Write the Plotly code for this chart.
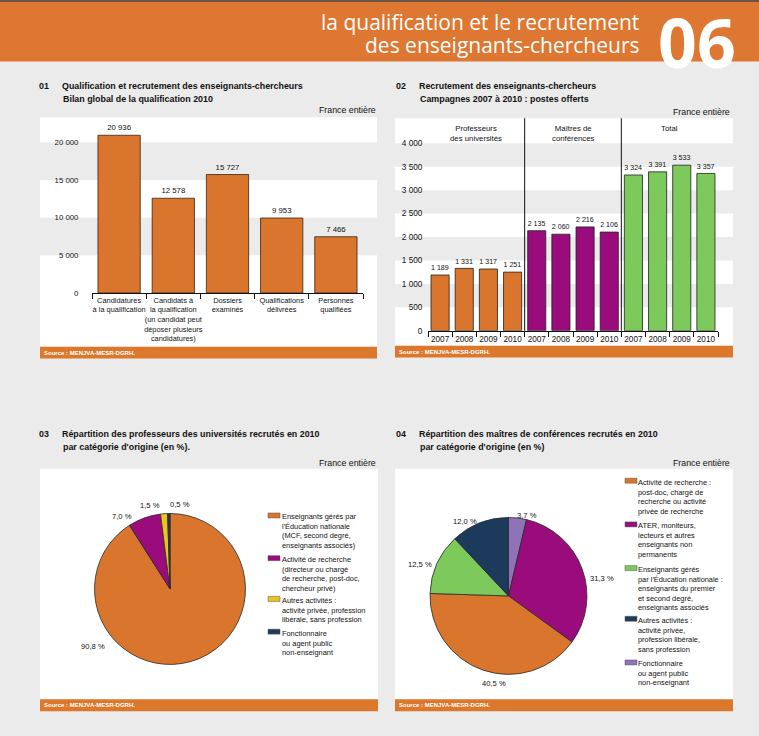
import plotly.graph_objects as go

W, H = 759, 736
def X(px): return px / W
def Y(py): return 1 - py / H

FONT = "Liberation Sans Narrow, Arial Narrow, Liberation Sans, sans-serif"
ORANGE = "#d9752c"
PURPLE = "#9a0b7c"
GREEN = "#7dc95c"
NAVY = "#1c3a5c"
YELLOW = "#efc21c"
LAVENDER = "#8f73b8"
BAND = "#ebebeb"

# ---------- DATA ----------
c1_categories = ["Candidatures<br>à la qualification",
                 "Candidats à<br>la qualification<br>(un candidat peut<br>déposer plusieurs<br>candidatures)",
                 "Dossiers<br>examinés", "Qualifications<br>délivrées", "Personnes<br>qualifiées"]
c1_values = [20936, 12578, 15727, 9953, 7466]

c2_years = ["2007", "2008", "2009", "2010"]
c2_groups = ["Professeurs<br>des universités", "Maîtres de<br>conférences", "Total"]
c2_pu = [1189, 1331, 1317, 1251]
c2_mcf = [2135, 2060, 2216, 2106]
c2_total = [3324, 3391, 3533, 3357]

c3_labels = ["Enseignants gérés par<br>l'Éducation nationale<br>(MCF, second degré,<br>enseignants associés)",
             "Activité de recherche<br>(directeur ou chargé<br>de recherche, post-doc,<br>chercheur privé)",
             "Autres activités :<br>activité privée, profession<br>libérale, sans profession",
             "Fonctionnaire<br>ou agent public<br>non-enseignant"]
c3_values = [90.8, 7.0, 1.5, 0.5]
c3_colors = [ORANGE, PURPLE, YELLOW, NAVY]

c4_labels = ["Activité de recherche :<br>post-doc, chargé de<br>recherche ou activité<br>privée de recherche",
             "ATER, moniteurs,<br>lecteurs et autres<br>enseignants non<br>permanents",
             "Enseignants gérés<br>par l'Éducation nationale :<br>enseignants du premier<br>et second degré,<br>enseignants associés",
             "Autres activités :<br>activité privée,<br>profession libérale,<br>sans profession",
             "Fonctionnaire<br>ou agent public<br>non-enseignant"]
c4_values = [40.5, 31.3, 12.5, 12.0, 3.7]
c4_colors = [ORANGE, PURPLE, GREEN, NAVY, LAVENDER]
c4_pie_order = [4, 1, 0, 2, 3]  # clockwise from 12 o'clock

def pct(v):
    return f"{v:.1f}".replace(".", ",") + " %"

fig = go.Figure()

# ---------- Chart 01 ----------
fig.add_trace(go.Bar(
    x=c1_categories, y=c1_values, xaxis="x", yaxis="y", width=0.78,
    marker=dict(color=ORANGE, line=dict(color="#3b2412", width=0.8)),
    texttemplate="%{y:,}", textposition="outside", cliponaxis=False,
    textfont=dict(size=7.8, color="#111", family=FONT), showlegend=False))

# ---------- Chart 02 ----------
c2_cats = [f"{g}|{y}" for g in range(3) for y in c2_years]
for gi, (vals, col) in enumerate([(c2_pu, ORANGE), (c2_mcf, PURPLE), (c2_total, GREEN)]):
    fig.add_trace(go.Bar(
        x=[f"{gi}|{y}" for y in c2_years], y=vals, xaxis="x2", yaxis="y2", width=0.75,
        marker=dict(color=col, line=dict(color="#222", width=0.8)),
        texttemplate="%{y:,}", textposition="outside", cliponaxis=False,
        textfont=dict(size=8, color="#111", family=FONT), showlegend=False))

# ---------- Chart 03 pie ----------
fig.add_trace(go.Pie(
    values=c3_values, labels=[l.replace("<br>", " ") for l in c3_labels],
    marker=dict(colors=c3_colors, line=dict(color="#2a2a2a", width=0.8)),
    sort=False, direction="clockwise", rotation=0, textinfo="none",
    domain=dict(x=[X(94), X(246)], y=[Y(669), Y(517)]), showlegend=False, hoverinfo="label+percent"))

# ---------- Chart 04 pie ----------
fig.add_trace(go.Pie(
    values=[c4_values[i] for i in c4_pie_order],
    labels=[c4_labels[i].replace("<br>", " ") for i in c4_pie_order],
    marker=dict(colors=[c4_colors[i] for i in c4_pie_order], line=dict(color="#2a2a2a", width=0.8)),
    sort=False, direction="clockwise", rotation=0, textinfo="none",
    domain=dict(x=[X(430), X(587)], y=[Y(679), Y(521)]), showlegend=False, hoverinfo="label+percent"))

shapes = []
ann = []

def A(**kw):
    d = dict(xref="paper", yref="paper", showarrow=False)
    d.update(kw)
    ann.append(d)

# header
shapes.append(dict(type="rect", xref="paper", yref="paper", x0=0, x1=1, y0=Y(62), y1=1,
                   fillcolor="#dd7731", line_width=0, layer="below"))
shapes.append(dict(type="rect", xref="paper", yref="paper", x0=0, x1=1, y0=Y(2), y1=1,
                   fillcolor="#6e5644", line_width=0, layer="below"))
HFONT = "Open Sans, Noto Sans, sans-serif"
A(text="la qualification et le recrutement", x=X(641), y=Y(22), xanchor="right", yanchor="middle",
  font=dict(family=HFONT, size=21, color="white"))
A(text="des enseignants-chercheurs", x=X(641), y=Y(45), xanchor="right", yanchor="middle",
  font=dict(family=HFONT, size=21, color="white"))
A(text="<b>06</b>", x=X(697), y=Y(42), xanchor="center", yanchor="middle",
  font=dict(family=HFONT, size=68, color="white"))

# panel boxes & source strips
boxes = [(40, 377, 118, 349), (395, 733, 119, 348), (40, 378, 472, 704), (395, 733, 472, 704)]
for (x0, x1, y0, y1) in boxes:
    shapes.append(dict(type="rect", xref="paper", yref="paper", x0=X(x0), x1=X(x1), y0=Y(y1), y1=Y(y0),
                       fillcolor="white", line_width=0, layer="below"))
    shapes.append(dict(type="rect", xref="paper", yref="paper", x0=X(x0), x1=X(x1), y0=Y(y1 + 12), y1=Y(y1),
                       fillcolor="#dc782c", line_width=0, layer="below"))
    A(text="<b>Source : MENJVA-MESR-DGRH.</b>", x=X(x0 + 2), y=Y(y1 + 6), xanchor="left",
      yanchor="middle", font=dict(family=FONT, size=6, color="white"))

# bands
for lo, hi in [(15000, 20000), (5000, 10000)]:
    shapes.append(dict(type="rect", xref="paper", yref="y", x0=X(40), x1=X(377), y0=lo, y1=hi,
                       fillcolor=BAND, line_width=0, layer="below"))
for lo, hi in [(3500, 4000), (2500, 3000), (1500, 2000), (500, 1000)]:
    shapes.append(dict(type="rect", xref="paper", yref="y2", x0=X(395), x1=X(733), y0=lo, y1=hi,
                       fillcolor=BAND, line_width=0, layer="below"))
# dividers chart 02
for xv in [3.5, 7.5]:
    shapes.append(dict(type="line", xref="x2", yref="paper", x0=xv, x1=xv, y0=Y(333), y1=Y(119),
                       line=dict(color="#111", width=1)))
for gi, g in enumerate(c2_groups):
    A(text=g, x=gi * 4 + 1.5, xref="x2", y=Y(123), xanchor="center", yanchor="top",
      font=dict(family=FONT, size=7.8, color="#111"))

# titles
TFONT = dict(family=FONT, size=8.9, color="#111")
titles = [
    (37, 60, 87, "01", ["Qualification et recrutement des enseignants-chercheurs", "Bilan global de la qualification 2010"], 378, 111),
    (394, 417, 87, "02", ["Recrutement des enseignants-chercheurs", "Campagnes 2007 à 2010 : postes offerts"], 732, 113),
    (37, 60, 437, "03", ["Répartition des professeurs des universités recrutés en 2010", "par catégorie d'origine (en %)."], 378, 466),
    (394, 417, 437, "04", ["Répartition des maîtres de conférences recrutés en 2010", "par catégorie d'origine (en %)"], 732, 466),
]
for nx, tx, ty, num, lines, fx, fy in titles:
    A(text=f"<b>{num}</b>", x=X(nx), y=Y(ty), xanchor="left", yanchor="middle", font=TFONT)
    A(text=f"<b>{lines[0]}</b>", x=X(tx), y=Y(ty), xanchor="left", yanchor="middle", font=TFONT)
    A(text=f"<b>{lines[1]}</b>", x=X(tx + 1), y=Y(ty + 13), xanchor="left", yanchor="middle", font=TFONT)
    A(text="France entière", x=X(fx), y=Y(fy), xanchor="right", yanchor="middle",
      font=dict(family=FONT, size=8.8, color="#111"))

# pie labels
LFONT = dict(family=FONT, size=7.6, color="#111")
for v, (px, py) in zip(c3_values, [(93, 651), (122, 520), (150, 509), (180, 508)]):
    A(text=pct(v), x=X(px), y=Y(py), xanchor="center", yanchor="middle", font=LFONT)
for v, (px, py) in zip(c4_values, [(494, 688), (602, 582), (420, 568), (465, 525), (527, 519)]):
    A(text=pct(v), x=X(px), y=Y(py), xanchor="center", yanchor="middle", font=LFONT)

# manual legends
def legend(labels, colors, mx, tx, ys):
    for lab, col, yy in zip(labels, colors, ys):
        shapes.append(dict(type="rect", xref="paper", yref="paper", x0=X(mx), x1=X(mx + 12),
                           y0=Y(yy + 2.5), y1=Y(yy - 2.5), fillcolor=col, line=dict(color="#555", width=0.5)))
        A(text=lab, x=X(tx), y=Y(yy - 5.2), xanchor="left", yanchor="top", align="left",
          font=dict(family=FONT, size=7.4, color="#111"))
legend(c3_labels, c3_colors, 268, 280, [519, 562, 603, 636])
legend(c4_labels, c4_colors, 625, 636, [484, 528, 572, 623, 667])

AX = dict(family=FONT, size=8.2, color="#111")
fig.update_layout(
    width=W, height=H, margin=dict(l=0, r=0, t=0, b=0),
    paper_bgcolor=BAND, plot_bgcolor="rgba(0,0,0,0)",
    separators=", ", barmode="overlay",
    font=dict(family=FONT, color="#111"),
    shapes=shapes, annotations=ann,
    xaxis=dict(domain=[X(92), X(363)], anchor="y", type="category", categoryorder="array",
               categoryarray=c1_categories, showline=True, linecolor="#111", linewidth=1,
               ticks="outside", tickson="boundaries", ticklen=5, tickcolor="#111", tickangle=0,
               tickfont=dict(family=FONT, size=7.4, color="#111"), showgrid=False),
    yaxis=dict(domain=[Y(295), Y(118)], anchor="x", range=[0, 23336], tickvals=[0, 5000, 10000, 15000, 20000],
               tickformat=",", showgrid=False, zeroline=False, showline=False, ticks="outside",
               ticklen=11, tickcolor="rgba(0,0,0,0)", tickfont=dict(family=FONT, size=7.8, color="#111")),
    xaxis2=dict(domain=[X(428), X(718)], anchor="y2", type="category", categoryorder="array",
                categoryarray=c2_cats, tickvals=c2_cats, ticktext=c2_years * 3,
                showline=True, linecolor="#111", linewidth=1, tickangle=0,
                ticks="outside", tickson="boundaries", ticklen=5, tickcolor="#111",
                tickfont=AX, showgrid=False),
    yaxis2=dict(domain=[Y(333), Y(119)], anchor="x2", range=[0, 4536], tickvals=list(range(0, 4001, 500)),
                tickformat=",", showgrid=False, zeroline=False, showline=False, ticks="outside",
                ticklen=3, tickcolor="rgba(0,0,0,0)", tickfont=AX),
)

fig.write_html("out.html", config={"displayModeBar": False},
               post_script="document.body.style.margin='0';document.body.style.overflow='hidden';")
